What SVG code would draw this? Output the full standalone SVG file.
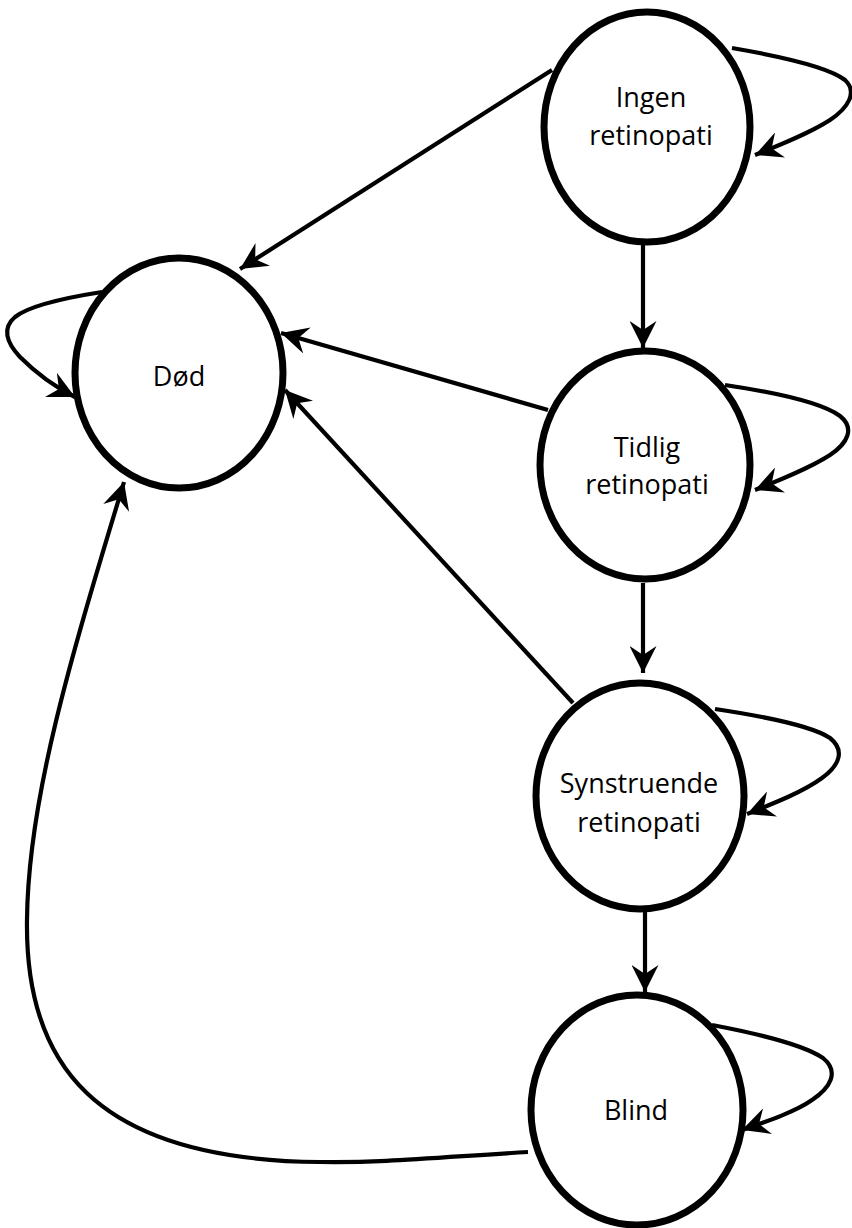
<svg xmlns="http://www.w3.org/2000/svg" width="852" height="1228" viewBox="0 0 852 1228">
  <style>
    .state { fill: #ffffff; stroke: #000000; stroke-width: 7; }
    .label { font-family: "Open Sans", "Liberation Sans", sans-serif; font-size: 27px; fill: #000000; text-anchor: middle; }
    .edge { fill: none; stroke: #000000; stroke-width: 4.2; marker-end: url(#arrow); }
  </style>
  <defs>
    <marker id="arrow" viewBox="0 0 27 27" refX="27" refY="13.5" markerWidth="27" markerHeight="27" markerUnits="userSpaceOnUse" orient="auto">
      <path d="M0,0 L27,13.5 L0,27 L9,13.5 Z" fill="#000000"/>
    </marker>
  </defs>
  <rect width="852" height="1228" fill="#ffffff"/>

  <!-- transitions -->
  <g id="connectors">
    <!-- self-loops -->
    <path class="edge" d="M732,48 C790,58 830,68 845,80 C858,92 848,108 830,120 C810,133 780,145 755,155"/>
    <path class="edge" d="M725,385 C785,394 825,405 840,416 C855,428 848,443 830,455 C810,468 780,480 755,490"/>
    <path class="edge" d="M715,709 C775,718 815,728 830,738 C845,750 840,765 822,778 C803,792 772,804 747,814"/>
    <path class="edge" d="M712,1025 C770,1036 808,1048 823,1058 C840,1072 830,1088 812,1100 C795,1112 765,1122 742,1130"/>
    <path class="edge" d="M102,292 C70,297 30,305 15,317 C2,328 6,342 20,357 C35,372 55,387 75,397"/>
    <!-- progression -->
    <path class="edge" d="M643,245 L643,348"/>
    <path class="edge" d="M643,583 L643,673"/>
    <path class="edge" d="M645,910 L645,992"/>
    <!-- to death -->
    <path class="edge" d="M552,70 L240,269"/>
    <path class="edge" d="M548,410 L281,333"/>
    <path class="edge" d="M573,703 L285,390"/>
    <path class="edge" d="M528,1152 C430,1158 380,1163 320,1162 C90,1160 25,1060 27,920 C28,800 70,660 124,482"/>
  </g>

  <g id="node-ingen">
    <ellipse class="state" cx="647" cy="127" rx="103" ry="115"/>
    <text class="label" x="651" y="107">Ingen</text>
    <text class="label" x="651" y="145">retinopati</text>
  </g>
  <g id="node-dod">
    <ellipse class="state" cx="179" cy="373" rx="104" ry="115"/>
    <text class="label" x="179" y="386">Død</text>
  </g>
  <g id="node-tidlig">
    <ellipse class="state" cx="645" cy="465" rx="105" ry="114"/>
    <text class="label" x="647" y="457">Tidlig</text>
    <text class="label" x="647" y="494">retinopati</text>
  </g>
  <g id="node-synstruende">
    <ellipse class="state" cx="640" cy="796" rx="104" ry="113"/>
    <text class="label" x="639" y="793">Synstruende</text>
    <text class="label" x="639" y="832">retinopati</text>
  </g>
  <g id="node-blind">
    <ellipse class="state" cx="637" cy="1110" rx="106" ry="115"/>
    <text class="label" x="636" y="1120">Blind</text>
  </g>
</svg>
